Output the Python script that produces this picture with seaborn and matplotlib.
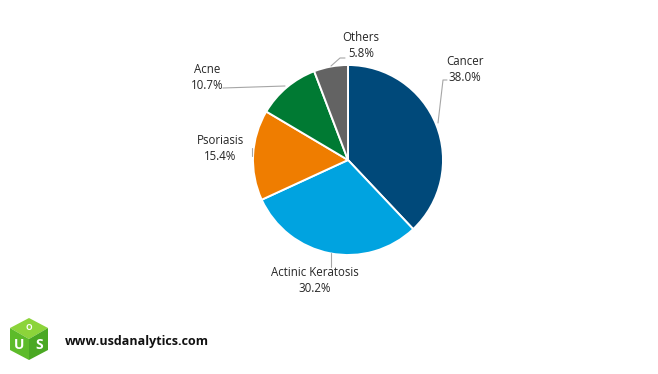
import matplotlib
matplotlib.use("Agg")
import matplotlib.pyplot as plt
import seaborn as sns
from matplotlib.patches import Polygon

# data
categories = ["Cancer", "Actinic Keratosis", "Psoriasis", "Acne", "Others"]
shares = [38.0, 30.2, 15.4, 10.7, 5.8]
colors = ["#00497A", "#00A3E0", "#EF7D00", "#007A33", "#636363"]

sns.set_style("white")
plt.rcParams["font.family"] = ["Open Sans", "DejaVu Sans"]

W, H = 658, 374
fig = plt.figure(figsize=(W / 100, H / 100), dpi=100)
ax = fig.add_axes([0, 0, 1, 1])

# pie in pixel coords; y axis is inverted so counterclock=True looks clockwise
cx, cy, r = 348, 160, 95
ax.pie(shares, colors=colors, startangle=-90, counterclock=True,
       center=(cx, cy), radius=r, frame=True,
       wedgeprops=dict(edgecolor="white", linewidth=1.4))
ax.set_xlim(0, W)
ax.set_ylim(H, 0)
ax.set_aspect("equal")
ax.axis("off")

# labels: text centre and leader line points
label_pos = {
    "Cancer": (465, 69),
    "Actinic Keratosis": (315, 280),
    "Psoriasis": (220, 148),
    "Acne": (207, 77),
    "Others": (361, 45),
}
leaders = {
    "Cancer": [(447, 80), (443, 80), (438, 123)],
    "Actinic Keratosis": [(331, 253), (331, 267)],
    "Psoriasis": [(252, 148), (252, 156)],
    "Acne": [(223, 88), (285, 86)],
    "Others": [(345, 58), (340, 58), (331, 66)],
}
for cat, val in zip(categories, shares):
    x, y = label_pos[cat]
    ax.text(x, y, f"{cat}\n{val:.1f}%", ha="center", va="center",
            fontsize=8.3, color="#262626", linespacing=1.3)
    pts = leaders[cat]
    ax.plot([p[0] for p in pts], [p[1] for p in pts], color="#A6A6A6", lw=0.8)

# logo
top, ur, lr, bot, ll, ul, ctr = (29, 318), (48, 328), (48, 350), (29, 360), (10, 350), (10, 328), (29, 339)
ax.add_patch(Polygon([top, ur, ctr, ul], closed=True, fc="#8CD43A", ec="none"))
ax.add_patch(Polygon([ul, ctr, bot, ll], closed=True, fc="#5DBB2A", ec="none"))
ax.add_patch(Polygon([ctr, ur, lr, bot], closed=True, fc="#4AA823", ec="none"))
ax.text(29, 328, "O", ha="center", va="center", fontsize=6, color="white", fontweight="bold")
ax.text(19, 345, "U", ha="center", va="center", fontsize=10, color="white", fontweight="bold")
ax.text(39, 345, "S", ha="center", va="center", fontsize=10, color="white", fontweight="bold")

ax.text(65, 341, "www.usdanalytics.com", ha="left", va="center",
        fontsize=9, fontweight="bold", color="#111111")

fig.savefig("out.png", dpi=100)
